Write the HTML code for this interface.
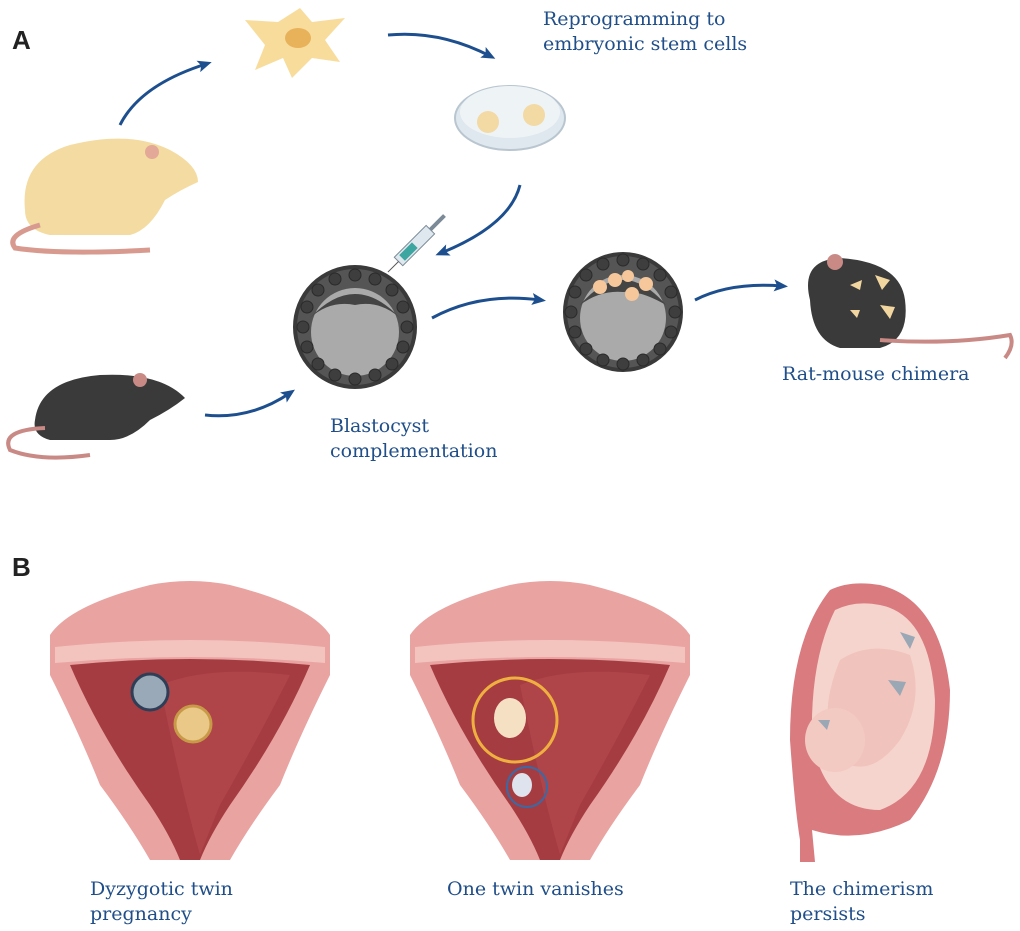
<!DOCTYPE html>
<html><head><meta charset="utf-8"><style>
body{margin:0;background:#fff;width:1020px;height:931px;overflow:hidden}
svg{display:block}
.t{font-family:"DejaVu Serif","Liberation Serif",serif;font-size:19px;fill:#1f4e89}
.L{font-family:"Liberation Sans",sans-serif;font-weight:bold;font-size:26px;fill:#222}
</style></head><body>
<svg width="1020" height="931" viewBox="0 0 1020 931">
<defs>
<marker id="ah" markerWidth="14" markerHeight="12" refX="8" refY="6" orient="auto" markerUnits="userSpaceOnUse"><path d="M0,0 L14,6 L0,12 L3,6 Z" fill="#1d4f8f"/></marker>
<g id="uterus">
<path d="M0,50 Q20,20 100,0 Q140,-8 180,0 Q260,20 280,50 L280,90 Q250,150 230,200 Q200,240 180,275 L150,275 Q140,220 140,200 Q140,220 130,275 L100,275 Q80,240 50,200 Q30,150 0,90 Z" fill="#e9a3a1"/>
<path d="M5,62 Q140,48 275,62 L275,78 Q140,66 5,78 Z" fill="#f3c3bd"/>
<path d="M20,80 Q140,68 260,80 Q230,150 180,220 Q160,250 150,275 L130,275 Q120,250 100,220 Q50,150 20,80 Z" fill="#a53c42"/>
<path d="M110,100 Q160,80 240,90 Q210,150 170,220 L150,270 Q130,200 110,100Z" fill="#b54a4e" opacity=".6"/>
</g>
<g id="ring">
<circle cx="0" cy="-52" r="6"/><circle cx="20" cy="-48" r="6"/><circle cx="37" cy="-37" r="6"/><circle cx="48" cy="-20" r="6"/><circle cx="52" cy="0" r="6"/><circle cx="48" cy="20" r="6"/><circle cx="37" cy="37" r="6"/><circle cx="20" cy="48" r="6"/><circle cx="0" cy="52" r="6"/><circle cx="-20" cy="48" r="6"/><circle cx="-37" cy="37" r="6"/><circle cx="-48" cy="20" r="6"/><circle cx="-52" cy="0" r="6"/><circle cx="-48" cy="-20" r="6"/><circle cx="-37" cy="-37" r="6"/><circle cx="-20" cy="-48" r="6"/>
</g>
</defs>
<text class="L" x="12" y="49">A</text>
<text class="L" x="12" y="576">B</text>
<!-- cell -->
<path d="M245,20 L278,22 L300,8 L312,22 L345,18 L325,40 L340,62 L312,58 L292,78 L283,58 L255,70 L265,45 Z" fill="#f8dc9c"/>
<ellipse cx="298" cy="38" rx="13" ry="10" fill="#e8b25a"/>
<!-- rat -->
<path d="M25,210 Q20,160 70,145 Q130,130 170,150 Q198,165 198,182 Q180,190 165,200 Q150,230 130,235 L50,235 Q25,230 25,210Z" fill="#f4dba1"/>
<circle cx="152" cy="152" r="7" fill="#e3a898"/>
<path d="M40,225 Q5,235 15,248 Q60,255 150,250" stroke="#d89a8f" stroke-width="5" fill="none"/>
<!-- petri dish -->
<ellipse cx="510" cy="118" rx="55" ry="32" fill="#dfe8ee" stroke="#b9c6d0" stroke-width="2"/>
<ellipse cx="510" cy="112" rx="50" ry="26" fill="#eef3f6"/>
<circle cx="488" cy="122" r="11" fill="#f3d9a3"/><circle cx="534" cy="115" r="11" fill="#f3d9a3"/>
<!-- syringe -->
<g transform="translate(395,265) rotate(-45)"><rect x="5" y="-6" width="45" height="12" fill="#dfe8ee" stroke="#7a8a96"/><rect x="10" y="-4" width="18" height="8" fill="#3da6a0"/><rect x="50" y="-2" width="20" height="4" fill="#7a8a96"/><line x1="-10" y1="0" x2="5" y2="0" stroke="#555"/></g>
<!-- blastocysts -->
<circle cx="355" cy="327" r="60" fill="#555" stroke="#3a3a3a" stroke-width="4"/>
<circle cx="355" cy="332" r="44" fill="#aaa"/>
<path d="M310,318 Q355,270 400,318 Q380,300 355,305 Q330,300 310,318Z" fill="#444"/>
<g fill="#3e3e3e" stroke="#2a2a2a" transform="translate(355,327)"><use href="#ring"/></g>
<circle cx="623" cy="312" r="58" fill="#555" stroke="#3a3a3a" stroke-width="4"/>
<circle cx="623" cy="318" r="43" fill="#aaa"/>
<path d="M580,305 Q623,255 666,305 Q640,290 623,292 Q600,290 580,305Z" fill="#444"/>
<g fill="#3e3e3e" stroke="#2a2a2a" transform="translate(623,312)"><use href="#ring"/></g>
<circle cx="600" cy="287" r="7" fill="#f5c79a"/><circle cx="615" cy="280" r="7" fill="#f5c79a"/><circle cx="632" cy="294" r="7" fill="#f5c79a"/><circle cx="646" cy="284" r="7" fill="#f5c79a"/><circle cx="628" cy="276" r="6" fill="#f5c79a"/>
<!-- chimera mouse -->
<path d="M810,300 Q800,260 840,258 Q900,262 905,300 Q910,340 880,348 L840,348 Q812,340 810,300Z" fill="#3a3a3a"/>
<circle cx="835" cy="262" r="8" fill="#c98a86"/>
<path d="M850,285 l12,-5 l-2,10z M875,275 l15,5 l-8,10z M880,305 l15,2 l-5,12z M850,310 l10,0 l-3,8z" fill="#f2d6a0"/>
<path d="M880,340 Q950,345 1010,335 Q1015,345 1005,358" stroke="#c98a86" stroke-width="4" fill="none"/>
<!-- black mouse -->
<path d="M35,420 Q40,380 100,375 Q160,372 185,398 Q170,410 150,420 Q130,440 110,440 L50,440 Q32,435 35,420Z" fill="#3a3a3a"/>
<circle cx="140" cy="380" r="7" fill="#c98a86"/>
<path d="M45,428 Q0,430 10,450 Q40,462 90,455" stroke="#c98a86" stroke-width="4" fill="none"/>
<!-- arrows -->
<g stroke="#1d4f8f" stroke-width="3" fill="none" marker-end="url(#ah)">
<path d="M120,125 Q140,85 206,64"/>
<path d="M388,35 Q440,30 490,56"/>
<path d="M520,185 Q510,225 441,253"/>
<path d="M432,318 Q480,292 540,300"/>
<path d="M695,300 Q730,282 782,286"/>
<path d="M205,415 Q250,420 290,393"/>
</g>
<text class="t" x="543" y="25">Reprogramming to</text>
<text class="t" x="543" y="50">embryonic stem cells</text>
<text class="t" x="782" y="380">Rat-mouse chimera</text>
<text class="t" x="330" y="432">Blastocyst</text>
<text class="t" x="330" y="457">complementation</text>
<!-- B -->
<use href="#uterus" x="50" y="585"/>
<use href="#uterus" x="410" y="585"/>
<circle cx="150" cy="692" r="18" fill="#9aa9b8" stroke="#2e3e56" stroke-width="3"/>
<circle cx="193" cy="724" r="18" fill="#e9c888" stroke="#c89a48" stroke-width="3"/>
<circle cx="515" cy="720" r="42" fill="none" stroke="#f0b040" stroke-width="3"/>
<ellipse cx="510" cy="718" rx="16" ry="20" fill="#f6e0c4"/>
<circle cx="527" cy="787" r="20" fill="none" stroke="#3a6aa6" stroke-width="2"/>
<ellipse cx="522" cy="785" rx="10" ry="12" fill="#dfe3ee"/>
<!-- fetus -->
<path d="M830,590 Q790,640 790,740 Q795,810 800,840 L800,862 L815,862 L812,830 Q860,845 910,820 Q950,770 950,690 Q940,600 880,585 Q850,580 830,590Z" fill="#d97b7f"/>
<path d="M835,610 Q810,660 812,740 Q825,810 880,810 Q935,790 935,700 Q930,615 880,605 Q855,600 835,610Z" fill="#f5d4cd"/>
<path d="M840,660 Q870,640 910,655 Q925,700 900,740 Q870,780 840,760 Q815,720 840,660Z" fill="#f0c4bc"/>
<ellipse cx="835" cy="740" rx="30" ry="32" fill="#f2cac2"/>
<path d="M900,632 l15,5 l-5,12z M888,680 l18,2 l-6,14z M818,720 l12,0 l-3,10z" fill="#9aa7b4"/>
<text class="t" x="90" y="895">Dyzygotic twin</text>
<text class="t" x="90" y="920">pregnancy</text>
<text class="t" x="447" y="895">One twin vanishes</text>
<text class="t" x="790" y="895">The chimerism</text>
<text class="t" x="790" y="920">persists</text>
</svg>
</body></html>
